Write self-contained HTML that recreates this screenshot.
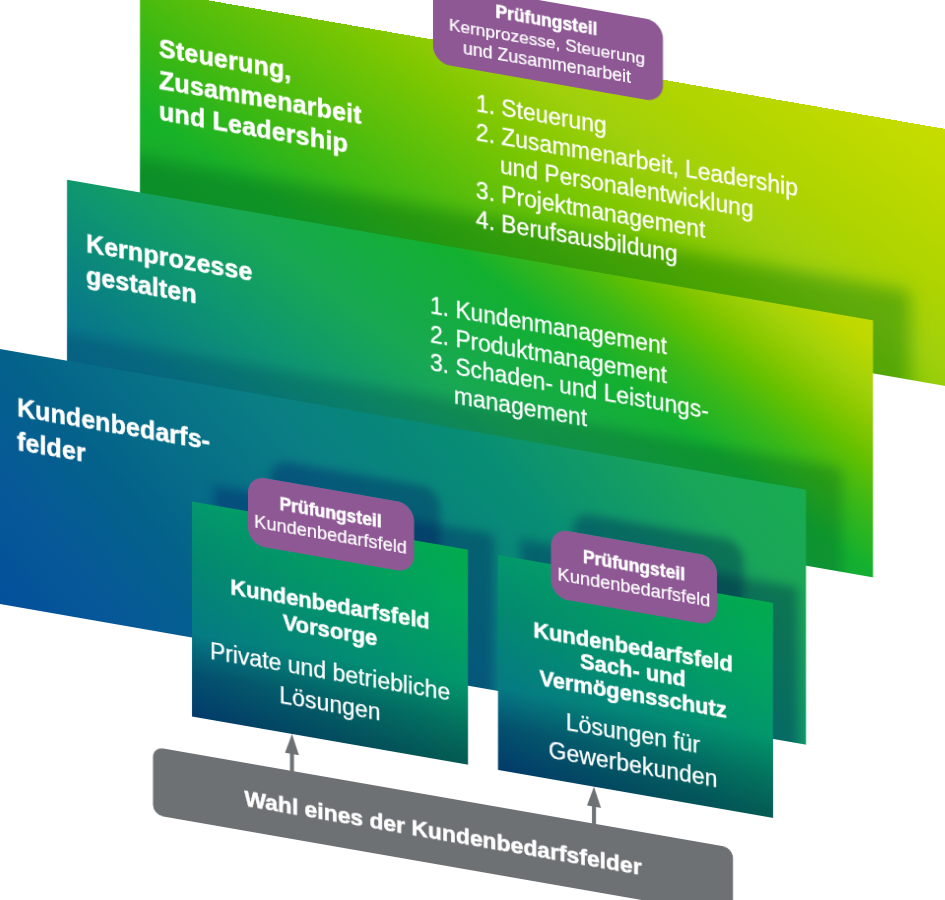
<!DOCTYPE html>
<html><head><meta charset="utf-8">
<style>
html,body{margin:0;padding:0;background:#fff;width:945px;height:900px;overflow:hidden;}
body{font-family:"Liberation Sans",sans-serif;color:#fff;}
#w{position:absolute;left:0;top:0;width:945px;height:900px;transform:skewY(9.9deg);transform-origin:0 0;}
.a{position:absolute;}
.layer{position:absolute;overflow:hidden;}
.sh{position:absolute;mix-blend-mode:multiply;}
.t{position:absolute;white-space:nowrap;-webkit-text-stroke:0.25px #fff;}
.t.b,.b{font-weight:700;-webkit-text-stroke:0.5px #fff;}
.badge{position:absolute;background:#8e5894;border-radius:17px;text-align:center;-webkit-text-stroke:0.2px #fff;}
.card{position:absolute;overflow:hidden;background:linear-gradient(to bottom,#049a6c 0%,#04966e 3%,#048a70 24%,#067a84 61.6%,#055070 80%,#033f6c 96.5%,#033c6a 100%);}
.cr{position:absolute;left:0;top:0;right:0;bottom:0;background:linear-gradient(to bottom,#02ac4c 0%,#02aa4e 3%,#02a85a 24%,#02986a 61.6%,#03765e 80%,#045e54 96.5%,#045c52 100%);-webkit-mask-image:linear-gradient(to right,transparent,#000);mask-image:linear-gradient(to right,transparent,#000);}
</style></head><body>
<div id="w">
  <div class="layer" style="left:140px;top:-36px;width:860px;height:256.5px;background:linear-gradient(28.3deg,#10a830 0%,#18b228 19%,#3cb812 30%,#82c800 53%,#a0d00c 63%,#aed400 73%,#c5dc00 93%,#cade00 100%);">
    <div class="sh" style="left:-73px;top:204px;width:806px;height:257px;box-shadow:36px -34px 16px 2px rgba(51,166,204,.5);"></div>
    <div class="t b" style="left:19px;top:41.25px;font-size:25px;line-height:31.5px;letter-spacing:0.2px;">Steuerung,<br>Zusammenarbeit<br>und Leadership</div>
    <div class="t" style="left:336px;top:43px;font-size:22.8px;line-height:26.92px;transform:scaleY(1.07);transform-origin:0 21.35px;">1. Steuerung<br>2. Zusammenarbeit, Leadership<br><span style="padding-left:24px">und Personalentwicklung</span><br>3. Projektmanagement<br>4. Berufsausbildung</div>
  </div>
  <div class="layer" style="left:67px;top:168px;width:806px;height:257px;background:linear-gradient(31deg,#0a6898 0%,#087a88 17.9%,#0e9670 34%,#18a852 47.8%,#12b030 65.6%,#3cb816 74.2%,#64c000 80.4%,#8ac800 85.8%,#a4d208 90.6%,#bed800 96.5%,#c4da00 100%);">
    <div class="sh" style="left:-77px;top:180.5px;width:816px;height:255.5px;box-shadow:34px -26px 12px 2px rgba(51,150,204,.38);"></div>
    <div class="t b" style="left:19px;top:43.5px;font-size:25px;line-height:32px;letter-spacing:0.1px;">Kernprozesse<br>gestalten</div>
    <div class="t" style="left:363px;top:48.5px;font-size:22.8px;line-height:26.73px;transform:scaleY(1.07);transform-origin:0 21.26px;">1. Kundenmanagement<br>2. Produktmanagement<br>3. Schaden- und Leistungs-<br><span style="padding-left:24px">management</span></div>
  </div>
  <div class="layer" style="left:-10px;top:348.5px;width:816px;height:255.5px;background:linear-gradient(45deg,#04509c 0%,#04529a 4%,#065898 12%,#04628a 25%,#0a7e84 48.5%,#08867a 59%,#088e74 68.5%,#1aa658 89%,#18ac50 100%);">
    <div class="sh" style="left:202px;top:119.0px;width:276px;height:215px;box-shadow:24px -18px 10px 2px rgba(0,107,214,.5);"></div>
    <div class="sh" style="left:508px;top:119.5px;width:275px;height:215px;box-shadow:24px -18px 10px 2px rgba(0,107,214,.5);"></div>
    <div class="sh" style="left:257.6px;top:83.19999999999999px;width:166px;height:69.5px;border-radius:17px;box-shadow:24px -18px 10px 2px rgba(0,107,214,.5);"></div>
    <div class="sh" style="left:561px;top:83.19999999999999px;width:166px;height:69.5px;border-radius:17px;box-shadow:24px -18px 10px 2px rgba(0,107,214,.5);"></div>
    <div class="t b" style="left:27px;top:38.5px;font-size:25px;line-height:34px;letter-spacing:0.1px;">Kundenbedarfs-<br>felder</div>
  </div>
  <div class="card" style="left:192px;top:467.5px;width:276px;height:215px;"><div class="cr"></div><div class="t b" style="left:0;width:100%;text-align:center;top:66px;font-size:21.9px;line-height:26.5px;">Kundenbedarfsfeld<br>Vorsorge</div><div class="t" style="left:0;width:100%;text-align:center;top:131.5px;font-size:23px;line-height:31.5px;">Private und betriebliche<br>Lösungen</div></div>
  <div class="badge" style="left:247.6px;top:431.7px;width:166px;height:69.5px;"><div class="b" style="font-size:17.5px;line-height:22px;margin-top:12.5px;">Prüfungsteil</div><div style="font-size:18.2px;line-height:23px;">Kundenbedarfsfeld</div></div>
  <div class="card" style="left:498px;top:468px;width:275px;height:215px;"><div class="cr"></div><div class="t b" style="left:-2.5px;width:100%;text-align:center;top:57px;font-size:21.9px;line-height:23.3px;">Kundenbedarfsfeld<br>Sach- und<br>Vermögensschutz</div><div class="t" style="left:-2.5px;width:100%;text-align:center;top:140px;font-size:23px;line-height:30.8px;">Lösungen für<br>Gewerbekunden</div></div>
  <div class="badge" style="left:551px;top:431.7px;width:166px;height:69.5px;"><div class="b" style="font-size:17.5px;line-height:22px;margin-top:12.5px;">Prüfungsteil</div><div style="font-size:18.2px;line-height:23px;">Kundenbedarfsfeld</div></div>
  <div class="badge" style="left:433.2px;top:-94px;width:229.5px;height:81px;"><div class="b" style="font-size:17.5px;line-height:22px;margin-top:8px;margin-left:-3px;">Prüfungsteil</div><div style="font-size:17.3px;line-height:21.5px;margin-left:-2px;margin-top:-0.5px;">Kernprozesse, Steuerung<br><span style="font-size:17.8px">und Zusammenarbeit</span></div></div>
  <div class="a" style="left:290.3px;top:700px;width:3.4px;height:22px;background:#6d7174;"></div>
  <div class="a" style="left:284.5px;top:683px;width:0;height:0;border-left:7.5px solid transparent;border-right:7.5px solid transparent;border-bottom:20px solid #6d7174;"></div>
  <div class="a" style="left:592.3px;top:700px;width:3.4px;height:22px;background:#6d7174;"></div>
  <div class="a" style="left:586.5px;top:683px;width:0;height:0;border-left:7.5px solid transparent;border-right:7.5px solid transparent;border-bottom:20px solid #6d7174;"></div>
  <div class="a" style="left:153px;top:720px;width:580px;height:68px;background:#6d7174;border-radius:10px;">
    <div class="t b" style="left:0;width:100%;text-align:center;top:22px;font-size:22.9px;line-height:26px;">Wahl eines der Kundenbedarfsfelder</div>
  </div>
</div>
</body></html>
